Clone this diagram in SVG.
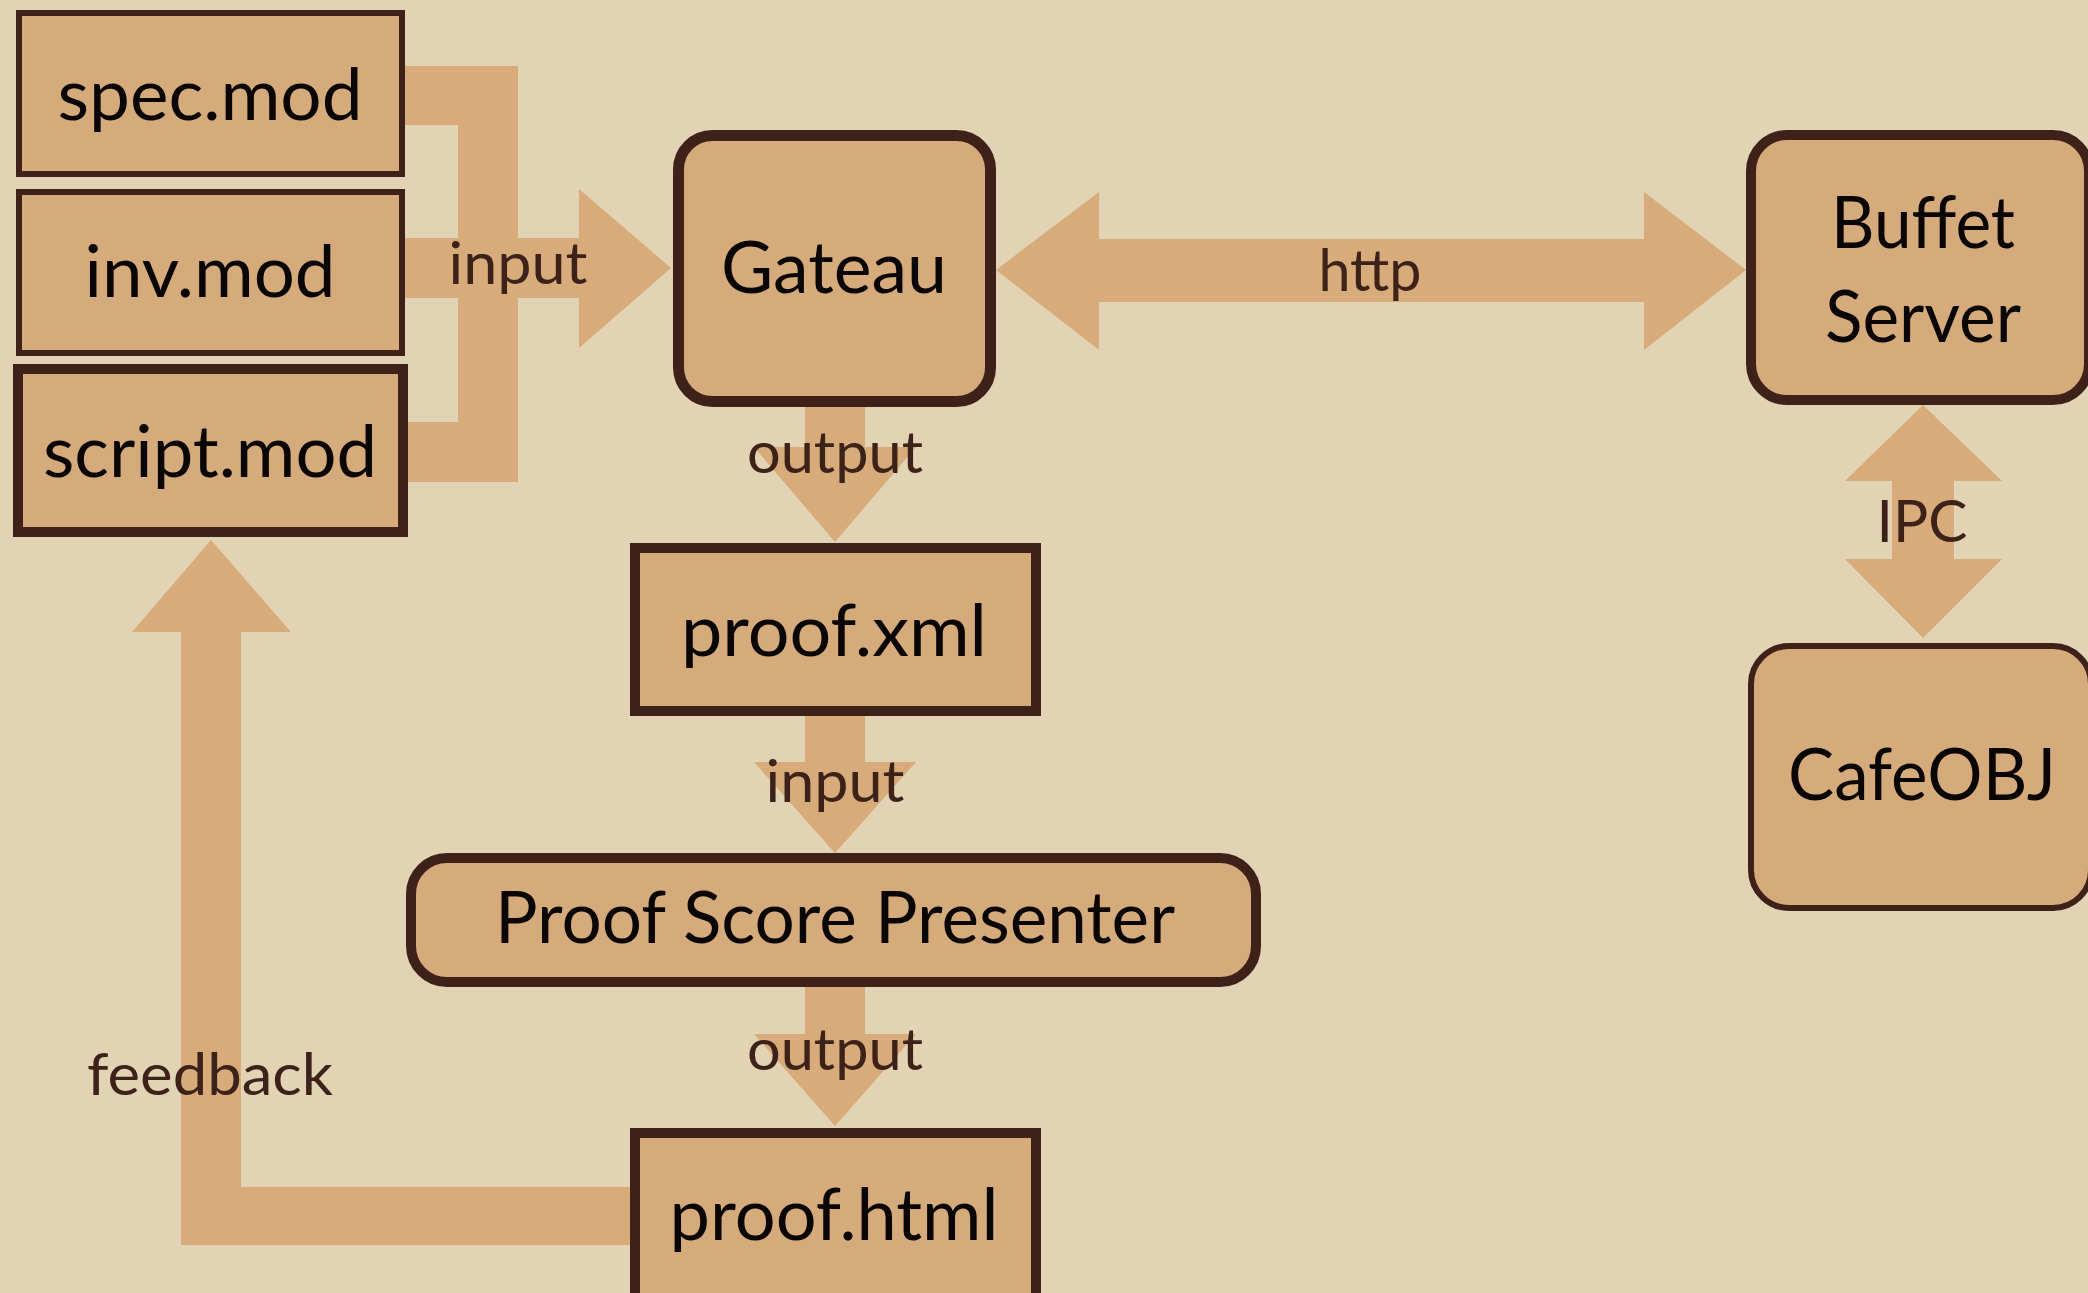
<svg xmlns="http://www.w3.org/2000/svg" width="2088" height="1293" viewBox="0 0 2088 1293">
<style>
.bg{fill:#E2D3B4}
.conn{fill:#D7AB7A}
.box{fill:#D6AB7C;stroke:#3E2219}
.thin{stroke-width:6}
.thick{stroke-width:10}
.t{font-family:Lato,"Noto Sans","Liberation Sans",sans-serif;font-size:72px;fill:#0A0605;text-anchor:middle}
.lbl{font-family:Lato,"Noto Sans","Liberation Sans",sans-serif;font-size:58px;fill:#3D2219;text-anchor:middle}
</style>
<rect class="bg" x="0" y="0" width="2088" height="1293"/>
<g id="connectors">
  <polygon class="conn" points="400,66 518,66 518,238 579,238 579,189 671,268 579,348 579,298 518,298 518,482 400,482 400,422 458,422 458,298 400,298 400,238 458,238 458,125 400,125"/>
  <polygon class="conn" points="996,270 1099,192 1099,239 1644,239 1644,192 1746,270 1644,350 1644,302 1099,302 1099,350"/>
  <polygon class="conn" points="805,400 865,400 865,447 916,447 835,542 754,447 805,447"/>
  <polygon class="conn" points="805,710 865,710 865,762 916,762 835,853 754,762 805,762"/>
  <polygon class="conn" points="805,980 865,980 865,1034 916,1034 835,1126 754,1034 805,1034"/>
  <polygon class="conn" points="1923,405 2002,481 1954,481 1954,559 2002,559 1923,638 1845,559 1892,559 1892,481 1845,481"/>
  <polygon class="conn" points="640,1187 241,1187 241,632 291,632 211,540 132,632 181,632 181,1245 640,1245"/>
  <text class="lbl" x="518" y="284" textLength="139" lengthAdjust="spacingAndGlyphs">input</text>
  <text class="lbl" x="1370" y="291" textLength="103" lengthAdjust="spacingAndGlyphs">http</text>
  <text class="lbl" x="835" y="473" textLength="176" lengthAdjust="spacingAndGlyphs">output</text>
  <text class="lbl" x="1922" y="542" textLength="91" lengthAdjust="spacingAndGlyphs">IPC</text>
  <text class="lbl" x="835" y="802" textLength="139" lengthAdjust="spacingAndGlyphs">input</text>
  <text class="lbl" x="835" y="1070" textLength="176" lengthAdjust="spacingAndGlyphs">output</text>
  <text class="lbl" x="210" y="1095" textLength="246" lengthAdjust="spacingAndGlyphs">feedback</text>
</g>
<g id="spec_mod">
  <rect class="box thin" x="19" y="13" width="383" height="161"/>
  <text class="t" x="210" y="120" textLength="305" lengthAdjust="spacingAndGlyphs">spec.mod</text>
</g>
<g id="inv_mod">
  <rect class="box thin" x="19" y="192" width="383" height="161"/>
  <text class="t" x="210" y="297" textLength="251" lengthAdjust="spacingAndGlyphs">inv.mod</text>
</g>
<g id="script_mod">
  <rect class="box thick" x="18" y="369" width="385" height="163"/>
  <text class="t" x="210" y="477" textLength="334" lengthAdjust="spacingAndGlyphs">script.mod</text>
</g>
<g id="gateau">
  <rect class="box" stroke-width="11" x="678.5" y="135.5" width="312" height="266" rx="34"/>
  <text class="t" x="834" y="293" textLength="226" lengthAdjust="spacingAndGlyphs">Gateau</text>
</g>
<g id="buffet_server">
  <rect class="box thick" x="1751" y="135" width="338" height="265" rx="36"/>
  <text class="t" x="1923" y="248" textLength="184" lengthAdjust="spacingAndGlyphs">Buffet</text>
  <text class="t" x="1923" y="342" textLength="196" lengthAdjust="spacingAndGlyphs">Server</text>
</g>
<g id="cafeobj">
  <rect class="box thin" x="1751" y="646" width="340" height="262" rx="38"/>
  <text class="t" x="1922" y="800" textLength="268" lengthAdjust="spacingAndGlyphs">CafeOBJ</text>
</g>
<g id="proof_xml">
  <rect class="box thick" x="635" y="548" width="401" height="163"/>
  <text class="t" x="834" y="656" textLength="306" lengthAdjust="spacingAndGlyphs">proof.xml</text>
</g>
<g id="proof_score_presenter">
  <rect class="box thick" x="411" y="858" width="845" height="124" rx="36"/>
  <text class="t" x="835" y="943" textLength="680" lengthAdjust="spacingAndGlyphs">Proof Score Presenter</text>
</g>
<g id="proof_html">
  <rect class="box thick" x="635" y="1133" width="401" height="200"/>
  <text class="t" x="834" y="1240" textLength="329" lengthAdjust="spacingAndGlyphs">proof.html</text>
</g>
</svg>
